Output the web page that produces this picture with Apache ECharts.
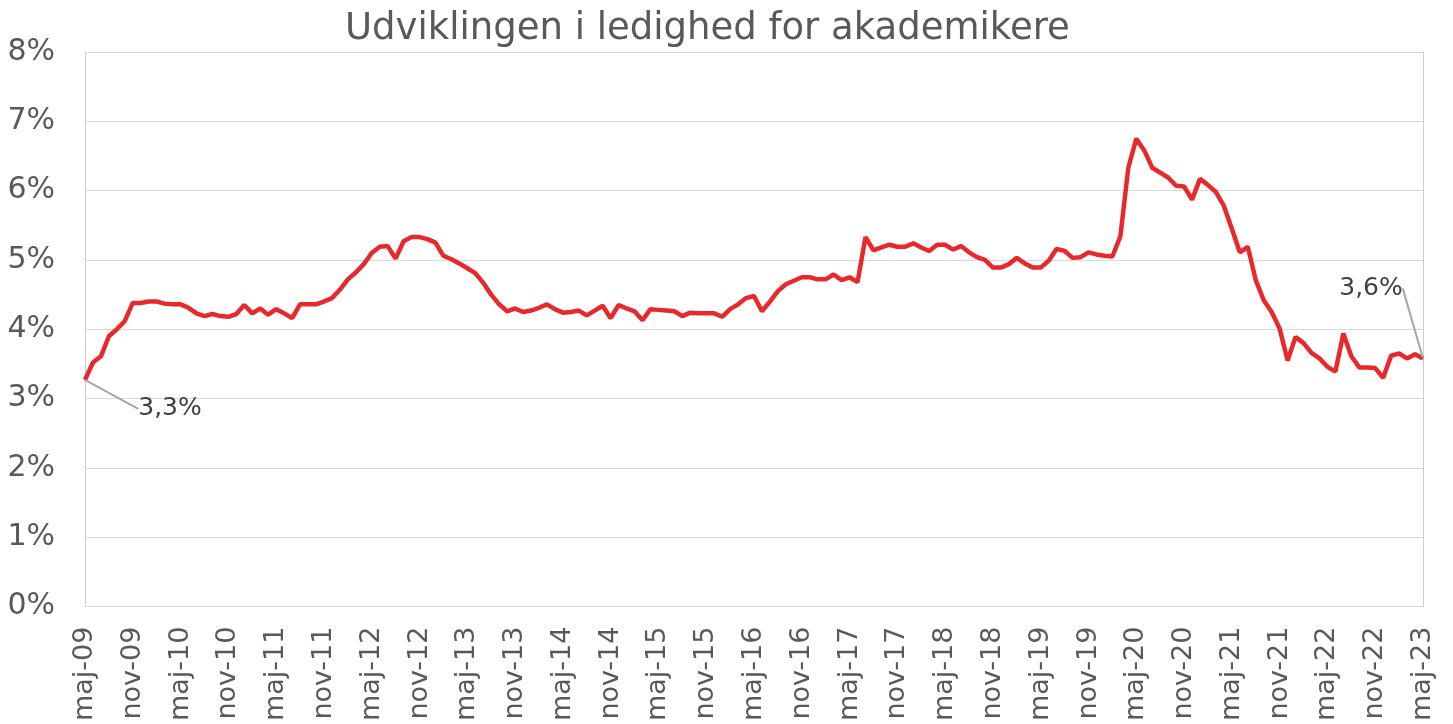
<!DOCTYPE html>
<html>
<head>
<meta charset="utf-8">
<script src="https://cdn.jsdelivr.net/npm/echarts@6/dist/echarts.min.js"></script>
<style>
	html, body {margin: 0; padding: 0; background: #fff;}
	#chart {width: 1453px; height: 724px;}
</style>
</head>
<body>
<div id="chart"></div>
<script>
var month_names = ['jan', 'feb', 'mar', 'apr', 'maj', 'jun', 'jul', 'aug', 'sep', 'okt', 'nov', 'dec'];
var start_year = 2009, start_month = 4, n_months = 169;

// ledighed i procent, maj-09 .. maj-23
var ledighed = [
	3.27, 3.52, 3.61, 3.90, 4.00, 4.12, 4.38, 4.38, 4.40, 4.40, 4.37, 4.36,
	4.36, 4.31, 4.23, 4.19, 4.22, 4.19, 4.18, 4.22, 4.35, 4.23, 4.30, 4.21,
	4.29, 4.23, 4.16, 4.36, 4.36, 4.36, 4.40, 4.45, 4.57, 4.72, 4.82, 4.94,
	5.10, 5.19, 5.20, 5.02, 5.27, 5.33, 5.33, 5.30, 5.25, 5.06, 5.01, 4.95,
	4.88, 4.81, 4.67, 4.50, 4.36, 4.26, 4.30, 4.25, 4.27, 4.31, 4.36, 4.29,
	4.24, 4.25, 4.27, 4.20, 4.27, 4.34, 4.16, 4.35, 4.30, 4.26, 4.13, 4.29,
	4.28, 4.27, 4.26, 4.19, 4.24, 4.23, 4.23, 4.23, 4.18, 4.29, 4.36, 4.45,
	4.48, 4.26, 4.40, 4.55, 4.65, 4.70, 4.75, 4.75, 4.72, 4.72, 4.79, 4.71,
	4.75, 4.68, 5.33, 5.14, 5.18, 5.22, 5.19, 5.19, 5.24, 5.18, 5.13, 5.22,
	5.22, 5.15, 5.20, 5.11, 5.04, 5.00, 4.89, 4.89, 4.94, 5.03, 4.95, 4.89,
	4.89, 4.99, 5.16, 5.13, 5.03, 5.04, 5.11, 5.08, 5.06, 5.05, 5.34, 6.33,
	6.75, 6.58, 6.33, 6.26, 6.19, 6.07, 6.06, 5.87, 6.17, 6.08, 5.98, 5.78,
	5.45, 5.11, 5.19, 4.71, 4.42, 4.25, 4.01, 3.55, 3.89, 3.80, 3.66, 3.58,
	3.46, 3.39, 3.94, 3.61, 3.45, 3.45, 3.44, 3.30, 3.62, 3.65, 3.58, 3.64,
	3.58
];

var maaneder = [];
for (var i = 0; i < n_months; i++) {
	var m = (start_month + i) % 12;
	var y = start_year + Math.floor((start_month + i) / 12);
	maaneder.push(month_names[m] + '-' + String(y).slice(2));
}

var last = ledighed.length - 1;
var serie_data = ledighed.map(function (v, i) {
	if (i === 0 || i === last) return {value: v, label: {show: true}, labelLine: {show: true}};
	return v;
});

var myChart = echarts.init(document.getElementById('chart'));

var options = {
	animation: false,
	title: {
		text: 'Udviklingen i ledighed for akademikere',
		left: 340, top: 6,
		textStyle: {fontFamily: 'DejaVu Sans', fontSize: 37, fontWeight: 'normal', color: '#595959'}
	},
	grid: {left: 85, right: 30, top: 52, bottom: 117},
	xAxis: {
		type: 'category',
		data: maaneder,
		boundaryGap: false,
		axisLine: {lineStyle: {color: '#d9d9d9'}},
		axisTick: {show: false},
		axisLabel: {
			interval: 5, rotate: 90, margin: 20,
			fontFamily: 'DejaVu Sans', fontSize: 27, color: '#595959'
		}
	},
	yAxis: [
		{
			type: 'value', min: 0, max: 8, interval: 1,
			axisLine: {show: true, lineStyle: {color: '#c8c8c8', type: 'dotted'}},
			axisTick: {show: false},
			splitLine: {lineStyle: {color: '#d9d9d9'}},
			axisLabel: {
				formatter: '{value}%', margin: 30,
				fontFamily: 'DejaVu Sans', fontSize: 30, color: '#595959'
			}
		},
		{
			type: 'value', min: 0, max: 8, interval: 1, position: 'right',
			axisLine: {show: true, lineStyle: {color: '#c8c8c8', type: 'dotted'}},
			axisTick: {show: false}, axisLabel: {show: false}, splitLine: {show: false}
		}
	],
	series: [
		{
			name: 'Ledighed', type: 'line', data: serie_data,
			showSymbol: true, showAllSymbol: true, symbol: 'circle', symbolSize: 1,
			itemStyle: {color: '#e8282b'},
			lineStyle: {color: '#e8282b', width: 4.5},
			label: {
				show: false, position: 'inside',
				fontFamily: 'DejaVu Sans', fontSize: 25, color: '#404040',
				formatter: function (p) { return p.value.toFixed(1).replace('.', ',') + '%'; }
			},
			labelLine: {lineStyle: {color: '#a6a6a6', width: 2}},
			labelLayout: function (p) {
				if (p.dataIndex === 0) return {dx: 85, dy: 29};
				return {dx: -52, dy: -70};
			}
		}
	]
};

myChart.setOption(options, true);
</script>
</body>
</html>
